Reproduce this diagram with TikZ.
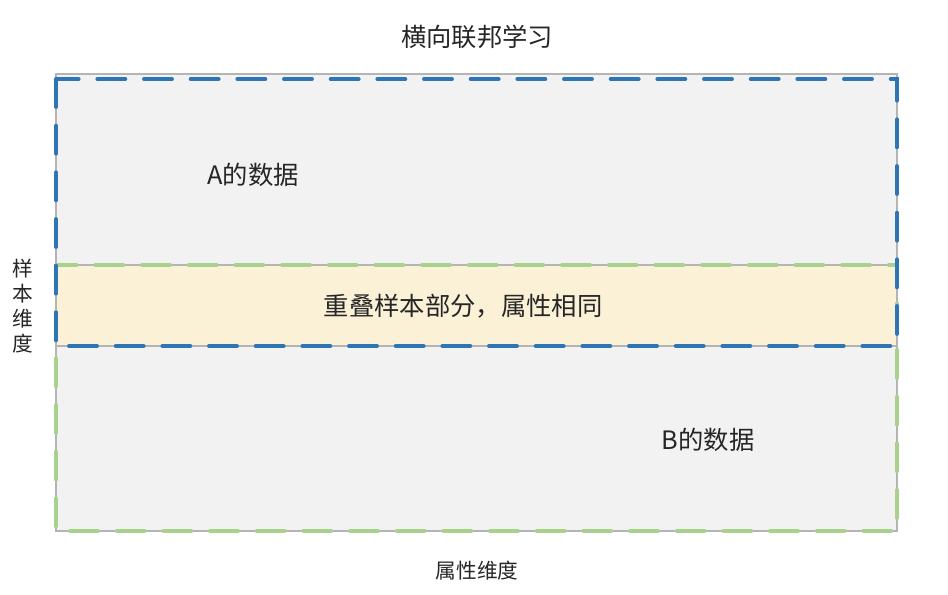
\documentclass[tikz,border=0pt]{standalone}
\usepackage{fontspec}
\newfontfamily\cjk{Noto Sans CJK SC}
\definecolor{txt}{HTML}{262626}
\definecolor{panelgray}{HTML}{F2F2F2}
\definecolor{panelborder}{HTML}{B4B4B4}
\definecolor{overlapfill}{HTML}{FBF1D7}
\definecolor{ablue}{HTML}{2E75B6}
\definecolor{bgreen}{HTML}{A9D18E}
\tikzset{
  panel/.style={draw=panelborder, line width=1.1pt},
  dashbox/.style={line width=2.9pt, line cap=round, dash pattern=on 21pt off 14pt},
  lbl/.style={text=txt, font=\cjk\fontsize{19}{23}\selectfont, inner sep=0pt},
  smalllbl/.style={text=txt, font=\cjk\fontsize{15.5}{18.75}\selectfont, inner sep=0pt, align=center},
}
\begin{document}
\begin{tikzpicture}[x=0.75pt, y=-0.75pt]
\useasboundingbox (0,0) rectangle (948,595);
% panels
\path[panel, fill=panelgray] (56,74) rectangle (897,265);
\path[panel, fill=panelgray] (56,346) rectangle (897,531);
\path[panel, fill=overlapfill] (56,265) rectangle (897,346);
% dashed data boxes
\draw[dashbox, draw=bgreen] (56,265) rectangle (897,531);
\draw[dashbox, draw=ablue] (56,79) rectangle (897,346);
% texts
\node[lbl] (title) at (477,37) {横向联邦学习};
\node[lbl] (adata) at (253,175) {A的数据};
\node[lbl] (bdata) at (708,440) {B的数据};
\node[lbl] (overlap) at (463,306) {重叠样本部分，属性相同};
\node[smalllbl] (sample) at (23,306) {样\\本\\维\\度};
\node[smalllbl] (attr) at (477,571) {属性维度};
\end{tikzpicture}
\end{document}
